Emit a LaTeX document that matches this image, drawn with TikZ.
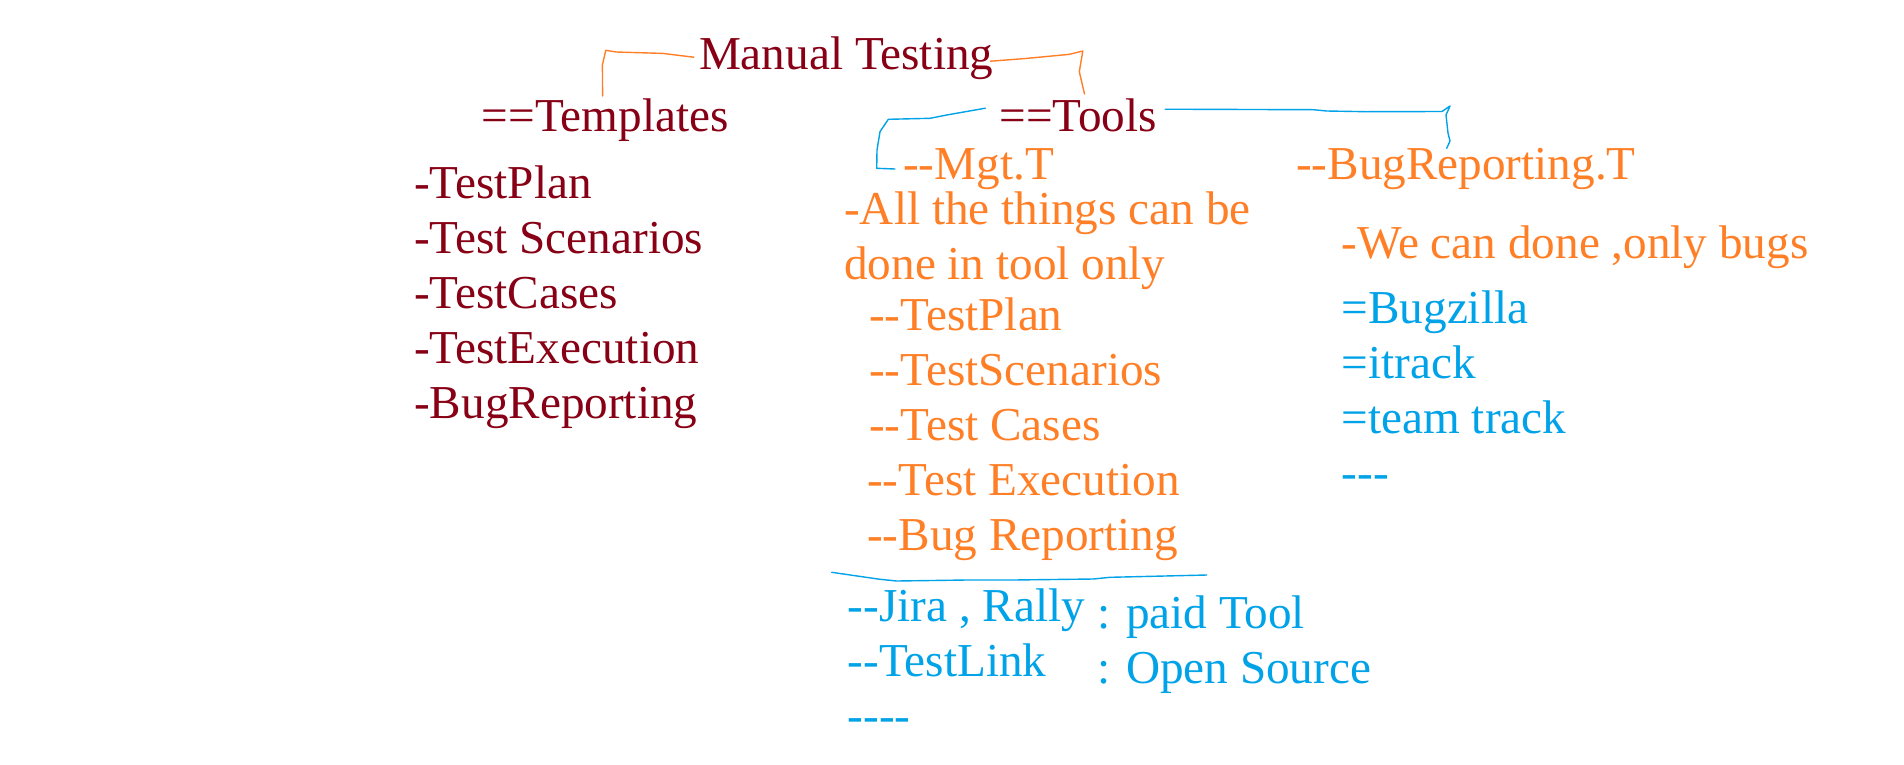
\documentclass[tikz,border=0pt]{standalone}
\usepackage{fontspec}
\setmainfont{Liberation Serif}[Ligatures=TeXOff]
\definecolor{darkred}{RGB}{136,0,21}
\definecolor{paintorange}{RGB}{255,127,39}
\definecolor{paintblue}{RGB}{0,162,232}
\begin{document}
\begin{tikzpicture}[x=1pt,y=-1pt,
  txt/.style={anchor=base west,inner sep=0pt,font=\fontsize{47.2}{55}\selectfont},
  red/.style={txt,text=darkred},
  org/.style={txt,text=paintorange},
  blu/.style={txt,text=paintblue},
  pen/.style={line width=1.4pt,line join=round,line cap=round}]
\useasboundingbox[fill=white] (0,0) rectangle (1904,764);

% headings
\node[red] (mt) at (698.8,69.2) {Manual Testing};
\node[red] (tpl) at (481.7,131.7) {==Templates};
\node[red] (tools) at (999.3,131.2) {==Tools};

% templates list
\node[red] (t1) at (414,198.3) {-TestPlan};
\node[red] (t2) at (414,253.3) {-Test Scenarios};
\node[red] (t3) at (414,308.3) {-TestCases};
\node[red] (t4) at (414,363.3) {-TestExecution};
\node[red] (t5) at (414,418.3) {-BugReporting};

% tool groups
\node[org] (mgt) at (903,179) {--Mgt.T};
\node[org] (bug) at (1296,179.3) {--BugReporting.T};

% management tools
\node[org] (m1) at (844,224.3) {-All the things can be};
\node[org] (m2) at (844,279.3) {done in tool only};
\node[org] (m3) at (869,330.7) {--TestPlan};
\node[org] (m4) at (869,385.7) {--TestScenarios};
\node[org] (m5) at (869,440.7) {--Test Cases};
\node[org] (m6) at (867,495.7) {--Test Execution};
\node[org] (m7) at (867,550.7) {--Bug Reporting};

% examples of management tools
\node[blu] (j1) at (847.5,621.7) {--Jira , Rally};
\node[blu] (j2) at (1097,628.3) {: paid Tool};
\node[blu] (k1) at (847.5,676.7) {--TestLink};
\node[blu] (k2) at (1097,683.3) {: Open Source};
\node[blu] (k3) at (847.5,731.7) {----};

% bug reporting tools
\node[org] (b0) at (1341.5,258.5) {-We can done ,only bugs};
\node[blu] (b1) at (1341.5,323.5) {=Bugzilla};
\node[blu] (b2) at (1341.5,378.5) {=itrack};
\node[blu] (b3) at (1341.5,433.5) {=team track};
\node[blu] (b4) at (1341.5,488.5) {---};

% hand-drawn brackets
\coordinate (mtL) at ([xshift=-5pt,yshift=12pt]mt.base west);
\coordinate (mtR) at ([xshift=-3pt,yshift=8pt]mt.base east);
\coordinate (tplTop) at (602.6,96);
\coordinate (toolsTop) at (1084.5,94);
\draw[pen,paintorange] (mtL) -- (662.6,53.4) -- (616.2,52) -- (605.8,50.3)
  -- (602.4,64.8) -- (tplTop);
\draw[pen,paintorange] (mtR) -- (1024.2,58.6) -- (1069,54.4) -- (1082.8,51)
  -- (1079.3,71.7) -- (toolsTop);

\coordinate (tlL) at ([xshift=-14pt,yshift=23pt]tools.base west);
\coordinate (tlR) at ([xshift=8pt,yshift=22pt]tools.base east);
\coordinate (mgtEnd) at ([xshift=-8pt,yshift=10pt]mgt.base west);
\coordinate (bugEnd) at (1446.7,148.3);
\draw[pen,paintblue] (tlL) -- (946.7,115) -- (930,118.3) -- (888.3,119.3)
  -- (880,131.7) -- (877,150) -- (876.7,168.3) -- (mgtEnd);
\draw[pen,paintblue] (tlR) -- (1313.3,109.7) -- (1326.7,111) -- (1366.7,111.7)
  -- (1442,111.5) -- (1450,106) -- (1446,115) -- (1448,133) -- (1450,141) -- (bugEnd);

% line under the management tool list
\coordinate (ulA) at (831.7,572.3);
\coordinate (ulB) at (1206.7,575);
\draw[pen,paintblue] (ulA) -- (880,579.3) -- (896.7,581) -- (966.7,580)
  -- (1013.3,580) -- (1093.3,579) -- (1110,577.3) -- (ulB);
\end{tikzpicture}
\end{document}
